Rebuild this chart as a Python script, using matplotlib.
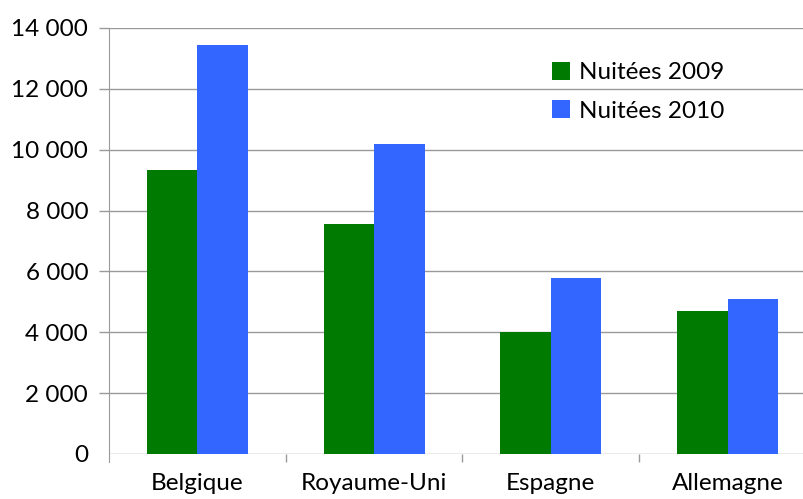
import matplotlib
matplotlib.use("Agg")
import matplotlib.pyplot as plt
import numpy as np

# data
pays = ['Belgique', 'Royaume-Uni', 'Espagne', 'Allemagne']
nuitees_2009 = [9330, 7550, 4020, 4700]
nuitees_2010 = [13450, 10200, 5800, 5100]
yticks = [0, 2000, 4000, 6000, 8000, 10000, 12000, 14000]
ytick_labels = ['0', '2 000', '4 000', '6 000', '8 000', '10 000', '12 000', '14 000']

plt.rcParams['font.family'] = ['Lato', 'DejaVu Sans']

fig = plt.figure(figsize=(8.04, 4.99), dpi=100)
# plot area runs past the right edge of the picture, as in the original
ax = fig.add_axes([109/804, 45/499, (816-109)/804, (454-28)/499])

x = np.arange(len(pays))
w = 0.286
ax.bar(x - w/2, nuitees_2009, w, color='#007a00', label='Nuitées 2009', zorder=3)
ax.bar(x + w/2, nuitees_2010, w, color='#3366ff', label='Nuitées 2010', zorder=3)

ax.set_xlim(-0.5, len(pays) - 0.5)
ax.set_ylim(0, 14000)

ax.set_yticks(yticks)
ax.set_yticklabels(ytick_labels, fontsize=17.5)
ax.yaxis.grid(True, color='#9a9a9a', linewidth=1, zorder=0)
ax.tick_params(axis='y', length=7, color='#9a9a9a', width=1, pad=8)
ax.yaxis.get_major_ticks()[0].tick1line.set_visible(False)

ax.set_xticks(x)
ax.set_xticklabels(pays, fontsize=17.5)
ax.tick_params(axis='x', length=0, pad=14)
ax.set_xticks(np.arange(0.5, len(pays) - 0.5, 1), minor=True)
ax.tick_params(axis='x', which='minor', length=6, color='#9a9a9a', width=1)

for s in ['top', 'right', 'bottom']:
    ax.spines[s].set_visible(False)
ax.spines['left'].set_color('#9a9a9a')
ax.spines['left'].set_bounds(-270, 14000)
ax.spines['left'].set_clip_on(False)

leg = ax.legend(loc='upper left', bbox_to_anchor=(530/804, 1 - 40/499),
                bbox_transform=fig.transFigure, frameon=False, fontsize=17.5,
                handlelength=0.75, handleheight=0.75, handletextpad=0.35,
                labelspacing=0.7)

plt.savefig('out.png', dpi=100)
